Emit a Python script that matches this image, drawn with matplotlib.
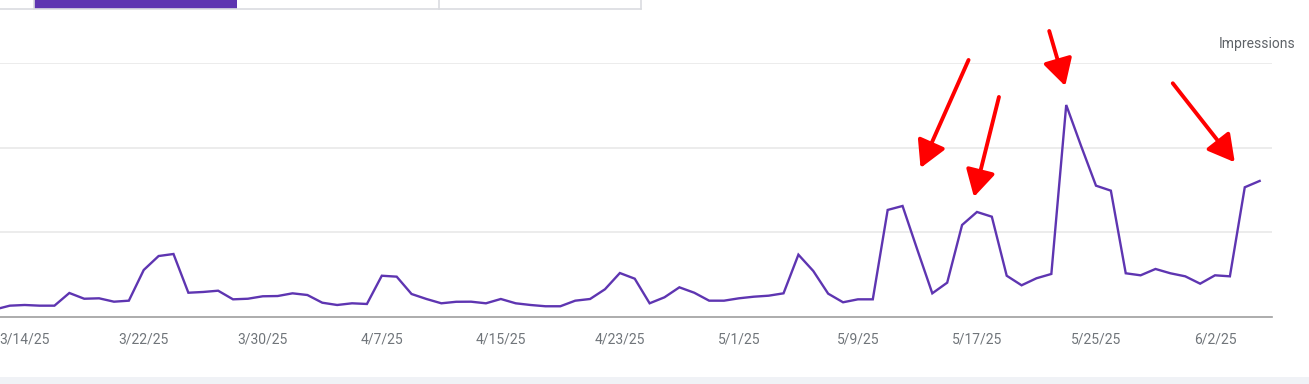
import numpy as np
import pandas as pd
import matplotlib
matplotlib.use('Agg')
import matplotlib.pyplot as plt
import matplotlib.dates as mdates
from matplotlib.patches import Rectangle
from matplotlib.lines import Line2D
from matplotlib.transforms import offset_copy

plt.rcParams['font.family'] = ['Roboto', 'DejaVu Sans']

# daily impressions, 3/12/25 .. 6/5/25 (no scale shown, gridlines at 100/200/300)
dates = pd.date_range('2025-03-12', '2025-06-05', freq='D')
impressions = [
    8.9, 13.4, 14.2, 13.4, 13.4, 28.4, 21.6, 22.1, 18.1, 19.3,      # 3/12-3/21
    55.6, 72.1, 74.5, 28.7, 29.6, 31.1, 20.9, 21.6, 24.5, 24.8,     # 3/22-3/31
    28.0, 26.0, 16.9, 14.2, 16.2, 15.4, 48.8, 47.7, 27.2, 21.3,     # 4/1-4/10
    16.2, 18.0, 18.1, 16.2, 21.3, 16.2, 14.2, 12.7, 12.7, 19.3,     # 4/11-4/20
    21.3, 32.8, 52.0, 45.3, 16.2, 23.3, 35.1, 28.7, 19.3, 19.3,     # 4/21-4/30
    22.1, 24.0, 25.2, 28.0, 73.7, 54.4, 27.6, 17.4, 20.9, 20.9,     # 5/1-5/10
    126.6, 131.3, 79.2, 28.0, 40.6, 108.8, 124.2, 118.6, 48.8, 37.5,  # 5/11-5/20
    45.8, 50.9, 250.7, 202.2, 155.3, 149.4, 51.7, 49.3, 56.8, 51.7,   # 5/21-5/30
    48.1, 39.4, 49.3, 48.1, 153.4, 160.9,                              # 5/31-6/5
]
tick_dates = pd.date_range('2025-03-14', '2025-06-02', freq='8D')
tick_labels = [f"{d.month}/{d.day}/{d:%y}" for d in tick_dates]
grid_values = [100, 200, 300]

# arrows: (point date, tip offset from the point, tail offset from the tip), pixels
arrows = [
    ('2025-05-12', (18, 38), (48, 108)),
    ('2025-05-17', (-3, 15), (25, 100)),
    ('2025-05-23', (-1, 19), (-16, 55)),
    ('2025-06-04', (-10, 25), (-62, 79)),
]

W, H = 1309, 384
fig = plt.figure(figsize=(W / 100, H / 100), dpi=100)
fig.patch.set_facecolor('white')


def px(x, y):
    return x / W, 1 - y / H


ax = fig.add_axes([0, (H - 317) / H, 1272 / W, (317 - 63.3) / H])
ax.set_facecolor('white')
ax.plot(dates, impressions, color='#5e35b1', lw=1.7, solid_joinstyle='miter', zorder=3)

ax.set_ylim(0, 300)
x0 = mdates.date2num(pd.Timestamp('2025-03-14')) - 1.66
x1 = mdates.date2num(pd.Timestamp('2025-06-02')) + 3.83
ax.set_xlim(x0, x1)
for g in grid_values:
    ax.axhline(g, color='#e9e9e9', lw=1.2, zorder=1)
for s in ['top', 'right', 'left']:
    ax.spines[s].set_visible(False)
ax.spines['bottom'].set_color('#9e9e9e')
ax.spines['bottom'].set_linewidth(1.2)
ax.set_yticks([])
ax.set_xticks(tick_dates)
ax.set_xticklabels(tick_labels)
ax.tick_params(axis='x', length=0, pad=11, labelsize=10, labelcolor='#70757a')

for d, tip, tail in arrows:
    d = pd.Timestamp(d)
    v = impressions[list(dates).index(d)]
    tr = offset_copy(ax.transData, fig=fig, x=tip[0], y=tip[1], units='dots')
    ax.annotate('', xy=(mdates.date2num(d), v), xycoords=tr,
                xytext=tail, textcoords='offset pixels',
                arrowprops=dict(arrowstyle='-|>,head_length=0.45,head_width=0.25',
                                color='#ff0000', lw=2.8, mutation_scale=36,
                                shrinkA=0, shrinkB=0),
                annotation_clip=False, zorder=5)

fig.text(*px(1296, 44), 'Impressions', ha='right', va='center',
         fontsize=10, color='#5f6368')

# tab strip at the top
fig.add_artist(Line2D([0, 641 / W], [1 - 8.8 / H] * 2, color='#dadce0', lw=1.2))
fig.add_artist(Rectangle(px(34, 9), 203 / W, 9 / H, color='#5e35b1', lw=0))
for xv in [34, 438.5, 641]:
    fig.add_artist(Line2D([xv / W] * 2, [1 - 9 / H, 1], color='#dadce0', lw=1.2))

# page background strip at the bottom
fig.add_artist(Rectangle((0, 0), 1, 7 / H, color='#f0f2f6', lw=0))

fig.savefig('out.png', dpi=100, facecolor='white')
